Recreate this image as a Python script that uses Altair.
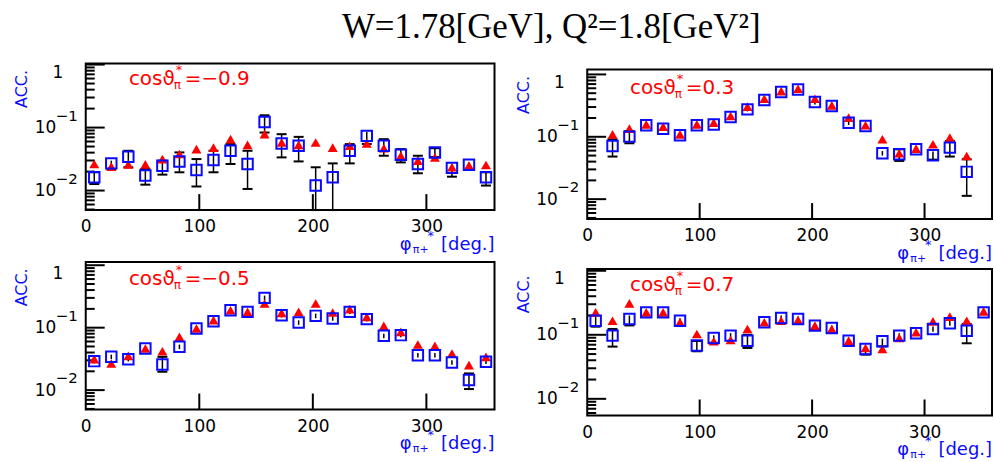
import altair as alt
import numpy as np
import pandas as pd

FONT = "DejaVu Sans"
BLUE = "#0a0aff"
RED = "#ff0000"

# phi* bin centres (deg)
PHI = [7.5, 22.5, 37.5, 52.5, 67.5, 82.5, 97.5, 112.5, 127.5, 142.5, 157.5, 172.5,
       187.5, 202.5, 217.5, 232.5, 247.5, 262.5, 277.5, 292.5, 307.5, 322.5, 337.5, 352.5]
PHI_03 = PHI[1:23]

# cos(theta*) = -0.9
sim_m09 = [0.0264, 0.024, 0.026, 0.026, 0.0316, 0.038, 0.0455, 0.048, 0.0655, 0.053, 0.0785, 0.058,
           0.053, 0.058, 0.048, 0.0514, 0.056, 0.047, 0.0357, 0.0298, 0.0336, 0.0234, 0.025, 0.0255]
acc_m09 = [0.0163, 0.027, 0.0344, 0.0173, 0.0248, 0.029, 0.0212, 0.0305, 0.0428, 0.0264, 0.123, 0.056,
           0.0514, 0.012, 0.0163, 0.0428, 0.0738, 0.0514, 0.037, 0.0264, 0.0403, 0.0229, 0.0256, 0.0163]
lo_m09 = [0.0127, 0.022, 0.0234, 0.0124, 0.0179, 0.0195, 0.0116, 0.0195, 0.0264, 0.0106, 0.0834, 0.0336,
          0.029, 0.003, 0.003, 0.027, 0.055, 0.0357, 0.028, 0.0188, 0.034, 0.0166, 0.0229, 0.012]
hi_m09 = [0.0195, 0.0298, 0.0428, 0.022, 0.0298, 0.0403, 0.0316, 0.0428, 0.0546, 0.0428, 0.1566, 0.0785,
          0.0712, 0.0234, 0.027, 0.0546, 0.085, 0.0654, 0.0455, 0.0357, 0.047, 0.0264, 0.028, 0.0195]

# cos(theta*) = 0.3
sim_p03 = [0.1096, 0.135, 0.158, 0.1455, 0.1096, 0.158, 0.1685, 0.2155, 0.304, 0.408, 0.541,
           0.59, 0.408, 0.319, 0.203, 0.153, 0.0912, 0.0545, 0.0647, 0.076, 0.097, 0.0493]
acc_p03 = [0.0713, 0.1006, 0.153, 0.135, 0.1057, 0.153, 0.158, 0.2077, 0.275, 0.389, 0.521,
           0.575, 0.361, 0.311, 0.1685, 0.149, 0.0545, 0.0525, 0.063, 0.0506, 0.067, 0.0274]
lo_p03 = [0.0482, 0.0787, 0.14, 0.124, 0.097, 0.14, 0.145, 0.19, 0.255, 0.36, 0.48,
          0.53, 0.33, 0.285, 0.155, 0.136, 0.05, 0.041, 0.058, 0.043, 0.0482, 0.0113]
hi_p03 = [0.0912, 0.124, 0.167, 0.147, 0.115, 0.167, 0.172, 0.226, 0.297, 0.42, 0.565,
          0.625, 0.393, 0.338, 0.183, 0.162, 0.059, 0.063, 0.0685, 0.058, 0.0858, 0.0436]

# cos(theta*) = -0.5
sim_m05 = [0.0313, 0.0267, 0.0354, 0.0464, 0.042, 0.0713, 0.097, 0.132, 0.19, 0.179, 0.244, 0.1726,
           0.179, 0.244, 0.175, 0.198, 0.149, 0.107, 0.0858, 0.0538, 0.0512, 0.0386, 0.0251, 0.0341]
acc_m05 = [0.0291, 0.0341, 0.0313, 0.0464, 0.0257, 0.0493, 0.097, 0.127, 0.19, 0.179, 0.3, 0.158,
           0.121, 0.1546, 0.14, 0.179, 0.137, 0.074, 0.0759, 0.0363, 0.0363, 0.0277, 0.0145, 0.0284]
lo_m05 = [0.0268, 0.0314, 0.0288, 0.0427, 0.0197, 0.0454, 0.089, 0.117, 0.175, 0.165, 0.276, 0.145,
          0.111, 0.142, 0.129, 0.165, 0.126, 0.068, 0.07, 0.0334, 0.0334, 0.0255, 0.0104, 0.0261]
hi_m05 = [0.0316, 0.037, 0.034, 0.0504, 0.0341, 0.0536, 0.105, 0.138, 0.206, 0.194, 0.326, 0.172,
          0.131, 0.168, 0.152, 0.194, 0.149, 0.080, 0.0825, 0.0394, 0.0394, 0.030, 0.0185, 0.0308]

# cos(theta*) = 0.7
sim_p07 = [0.224, 0.166, 0.31, 0.224, 0.224, 0.157, 0.103, 0.0792, 0.083, 0.123, 0.157, 0.166,
           0.170, 0.139, 0.123, 0.081, 0.0623, 0.0601, 0.0893, 0.1094, 0.162, 0.192, 0.166, 0.232]
acc_p07 = [0.166, 0.097, 0.177, 0.224, 0.224, 0.166, 0.0678, 0.0893, 0.097, 0.081, 0.157, 0.183,
           0.177, 0.139, 0.128, 0.081, 0.0601, 0.0792, 0.097, 0.1055, 0.123, 0.151, 0.116, 0.224]
lo_p07 = [0.134, 0.0654, 0.14, 0.2, 0.2, 0.15, 0.0553, 0.075, 0.088, 0.0623, 0.145, 0.168,
          0.162, 0.12, 0.112, 0.068, 0.049, 0.066, 0.088, 0.096, 0.112, 0.138, 0.0737, 0.205]
hi_p07 = [0.19, 0.123, 0.2, 0.245, 0.245, 0.182, 0.08, 0.098, 0.106, 0.1, 0.17, 0.2,
          0.193, 0.152, 0.14, 0.089, 0.066, 0.087, 0.106, 0.115, 0.135, 0.165, 0.1476, 0.245]

X_LABELS = [0, 100, 200, 300]
Y_LABELS = [0.01, 0.1, 1]


def panel(cos_text, phi, sim, acc, lo, hi, width, height, ymin, ymax):
    xs = alt.Scale(domain=[0, 360], nice=False, zero=False)
    ys = alt.Scale(type="log", domain=[ymin, ymax], nice=False, clamp=True)
    xaxis = alt.Axis(values=X_LABELS, labelFlush=False, ticks=False, domain=False, grid=False,
                     labelFont=FONT, labelFontSize=17, labelPadding=9, labelColor="black",
                     title=None)
    yaxis = alt.Axis(values=Y_LABELS, labelExpr="datum.value == 1 ? '1' : '10'",
                     labelFlush=False, ticks=False, domain=False, grid=False,
                     labelFont=FONT, labelFontSize=17, labelColor="black",
                     labelPadding={"condition": {"test": "datum.value == 1", "value": 23}, "value": 30},
                     labelBaseline={"condition": {"test": "datum.value == 1", "value": "top"},
                                    "value": "middle"},
                     title="ACC.", titleColor=BLUE, titleFont=FONT, titleFontSize=16,
                     titleFontWeight="normal", titleAngle=270, titleX=-64, titleY=6,
                     titleAlign="right", titleBaseline="middle")

    def X(f):
        return alt.X(f, type="quantitative", scale=xs, axis=xaxis)

    def Y(f):
        return alt.Y(f, type="quantitative", scale=ys, axis=yaxis)

    dec_per_px = np.log10(ymax / ymin) / height
    df = pd.DataFrame({"phi": phi, "sim": sim, "acc": acc, "lo": lo, "hi": hi})
    # error caps are only drawn where they stick out of the square marker
    df["lo_px"] = np.log10(df["acc"] / df["lo"]) / dec_per_px
    df["hi_px"] = np.log10(df["hi"] / df["acc"]) / dec_per_px

    # inward frame ticks on the log axis
    deg_per_px = 360.0 / width
    major = [1e-2, 1e-1, 1.0]
    minor = [m * 10.0 ** k for k in (-3, -2, -1) for m in range(2, 10)]
    tv, tl = [], []
    for v in major:
        if ymin <= v <= ymax:
            tv.append(v); tl.append(19 * deg_per_px)
    for v in minor:
        if ymin <= v <= ymax:
            tv.append(v); tl.append(9 * deg_per_px)
    ytick_df = pd.DataFrame({"v": tv, "x0": 0.0, "x1": tl})
    yticks = alt.Chart(ytick_df).mark_rule(color="black", strokeWidth=2).encode(
        x=X("x0"), x2="x1", y=Y("v"))

    xtick_df = pd.DataFrame({"phi": X_LABELS[1:], "y0": ymin,
                             "y1": ymin * 10 ** (16 * dec_per_px)})
    xticks = alt.Chart(xtick_df).mark_rule(color="black", strokeWidth=2).encode(
        x=X("phi"), y=Y("y0"), y2="y1")

    base = alt.Chart(df)
    err = base.mark_rule(color="black", strokeWidth=1.5).encode(x=X("phi"), y=Y("lo"), y2="hi")
    cap_lo = base.transform_filter("datum.lo_px > 4").mark_tick(
        orient="horizontal", color="black", size=10, thickness=2, opacity=1).encode(
        x=X("phi"), y=Y("lo"))
    cap_hi = base.transform_filter("datum.hi_px > 4").mark_tick(
        orient="horizontal", color="black", size=10, thickness=2, opacity=1).encode(
        x=X("phi"), y=Y("hi"))
    tri = base.mark_point(shape="triangle-up", filled=True, color=RED, size=100,
                          opacity=1).encode(x=X("phi"), y=Y("sim"))
    sq = base.mark_point(shape="square", filled=False, color=BLUE, strokeWidth=2, size=110,
                         opacity=1).encode(x=X("phi"), y=Y("acc"))

    def note(text, x, y, size, color, dx, dy, align="left", baseline="alphabetic"):
        d = pd.DataFrame({"x": [x], "y": [y], "t": [text]})
        return alt.Chart(d).mark_text(align=align, baseline=baseline, dx=dx, dy=dy,
                                      fontSize=size, color=color, font=FONT).encode(
            x=X("x"), y=Y("y"), text="t:N")

    texts = [
        # panel label  cos(theta_pi*) = value
        note("cosϑ", 38, 0.48, 20, RED, 0, 0),
        note("π", 38, 0.48, 12, RED, 45, 4),
        note("*", 38, 0.48, 13, RED, 47, -11),
        note(cos_text, 38, 0.48, 20, RED, 56, 0),
        # decade exponents next to the "10" labels
        note("−1", 0, 0.1, 15, "black", -30, -12, baseline="middle"),
        note("−2", 0, 0.01, 15, "black", -30, -12, baseline="middle"),
        # x axis title  phi_pi+* [deg.]
        note("[deg.]", 360, ymin, 18, BLUE, 0, 35, align="right", baseline="middle"),
        note("φ", 360, ymin, 18, BLUE, -89, 35, align="center", baseline="middle"),
        note("π+", 360, ymin, 11, BLUE, -74, 40, align="center", baseline="middle"),
        note("*", 360, ymin, 13, BLUE, -64, 26, align="center", baseline="middle"),
    ]

    return alt.layer(yticks, xticks, err, cap_lo, cap_hi, tri, sq, *texts).properties(
        width=width, height=height)


p1 = panel("=−0.9", PHI, sim_m09, acc_m09, lo_m09, hi_m09, 410, 147, 0.0049, 1.04)
p2 = panel("=0.3", PHI_03, sim_p03, acc_p03, lo_p03, hi_p03, 406, 150, 0.0048, 1.2)
p3 = panel("=−0.5", PHI, sim_m05, acc_m05, lo_m05, hi_m05, 410, 148, 0.0049, 1.13)
p4 = panel("=0.7", PHI, sim_p07, acc_p07, lo_p07, hi_p07, 406, 147, 0.0055, 1.07)

# empty strip that lowers the right-hand column a little
gap = alt.Chart(pd.DataFrame({"v": [0]})).mark_rule(strokeOpacity=0).encode(
    y=alt.value(0)).properties(width=406, height=1,
                               view=alt.ViewBackground(stroke="transparent"))

left = alt.vconcat(p1, p3, spacing=5)
right = alt.vconcat(gap, p2, p4, spacing=3)

chart = alt.hconcat(
    left, right, spacing=18,
    title=alt.TitleParams("W=1.78[GeV], Q²=1.8[GeV²]", font="Liberation Serif", fontSize=35,
                          fontWeight="normal", color="black", anchor="middle", dx=48, offset=18),
).properties(
    padding={"left": 13, "top": 9, "right": 0, "bottom": 0},
    background="white",
).configure_view(stroke="black", strokeWidth=2)

chart.save("out.html", embed_options={"renderer": "svg", "actions": False})
